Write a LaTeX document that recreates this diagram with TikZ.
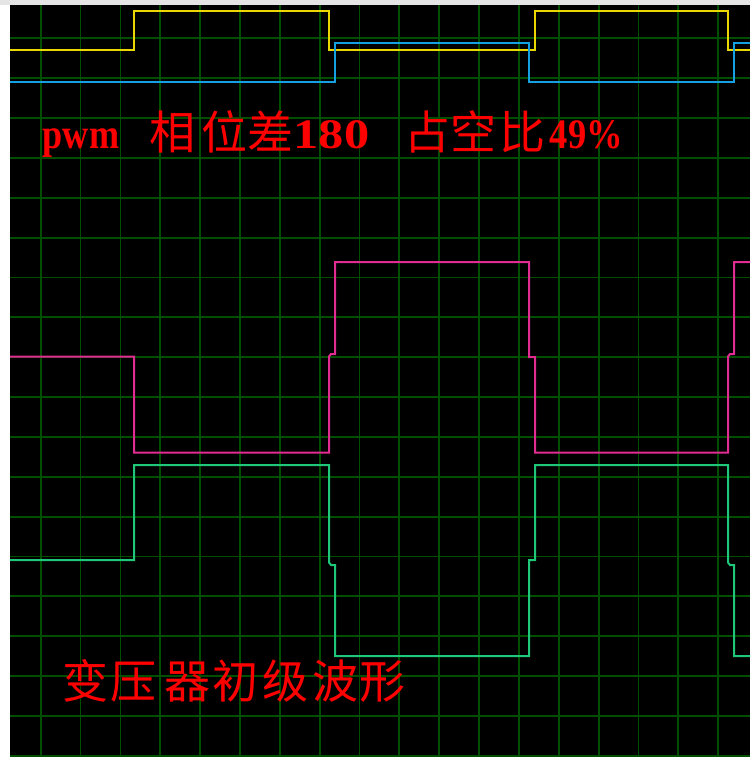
\documentclass[tikz,border=0pt]{standalone}
\usepackage{fontspec}
\usepackage{graphicx}
\setmainfont{Liberation Serif}
\newfontfamily\cjk{Noto Sans CJK SC}
\definecolor{gridg}{RGB}{0,78,0}
\definecolor{sigY}{RGB}{235,215,0}
\definecolor{sigB}{RGB}{20,160,225}
\definecolor{sigM}{RGB}{225,45,145}
\definecolor{sigG}{RGB}{30,200,120}
\definecolor{lbl}{RGB}{255,0,0}
\tikzset{
  wave/.style={line width=2pt, line join=miter},
  gridline/.style={gridg, line width=1.8pt},
  cjklbl/.style={text=lbl, font=\cjk\fontsize{46}{46}\selectfont, inner sep=0pt, anchor=base},
  latlbl/.style={text=lbl, font=\bfseries\fontsize{42}{42}\selectfont, inner sep=0pt, anchor=base}
}
\begin{document}
\begin{tikzpicture}[x=1pt,y=-1pt]
\useasboundingbox (0,0) rectangle (750,757);
\fill[white] (0,0) rectangle (750,757);
\fill[black!10] (0,0) rectangle (750,5);
\fill[black] (10,5) rectangle (750,757);
\begin{scope}
\clip (10,5) rectangle (750,757);
\foreach \k in {0,...,17} \draw[gridline] ({40.7+39.85*\k},5) -- ({40.7+39.85*\k},757);
\foreach \k in {0,...,18} \draw[gridline] (10,{38.3+39.86*\k}) -- (750,{38.3+39.86*\k});
% yellow PWM
\draw[wave, sigY] (8,50) -- (134,50) -- (134,11) -- (329,11) -- (329,50) -- (535,50) -- (535,11) -- (728,11) -- (728,50) -- (752,50);
% blue PWM
\draw[wave, sigB] (8,81.7) -- (335,81.7) -- (335,43) -- (529,43) -- (529,81.7) -- (734,81.7) -- (734,43) -- (752,43);
% magenta primary
\draw[wave, sigM] (8,356.5) -- (134,356.5) -- (134,452.5) -- (329,452.5) -- (329,356.5) -- (331,354) -- (335,354) -- (335,262) -- (529,262) -- (529,357) -- (535,357) -- (535,452.5) -- (728,452.5) -- (728,356.5) -- (730,354) -- (734,354) -- (734,262) -- (752,262);
% green primary
\draw[wave, sigG] (8,560) -- (134,560) -- (134,465) -- (329,465) -- (329,562.5) -- (331,565) -- (335,565) -- (335,656) -- (529,656) -- (529,560) -- (535,560) -- (535,465) -- (728,465) -- (728,562.5) -- (730,565) -- (734,565) -- (734,656) -- (752,656);
\end{scope}
% top title
\node[latlbl] (tpwm) at (81,148) {\scalebox{0.86}[1]{pwm}};
\node[cjklbl] (t1) at (172,149.5) {相};
\node[cjklbl] (t2) at (224,149.5) {位};
\node[cjklbl] (t3) at (270,149.5) {差};
\node[latlbl] (t180) at (331.5,148) {\scalebox{1.2}[1]{180}};
\node[cjklbl] (t4) at (427,149.5) {占};
\node[cjklbl] (t5) at (473,149.5) {空};
\node[cjklbl] (t6) at (522,149.5) {比};
\node[latlbl] (t49) at (586.5,148) {\scalebox{0.87}[1]{49\%}};
% bottom caption
\node[cjklbl] (b1) at (85,698.5) {变};
\node[cjklbl] (b2) at (133.5,698.5) {压};
\node[cjklbl] (b3) at (187.5,698.5) {器};
\node[cjklbl] (b4) at (235,698.5) {初};
\node[cjklbl] (b5) at (285.5,698.5) {级};
\node[cjklbl] (b6) at (335.5,698.5) {波};
\node[cjklbl] (b7) at (382.5,698.5) {形};
\end{tikzpicture}
\end{document}
